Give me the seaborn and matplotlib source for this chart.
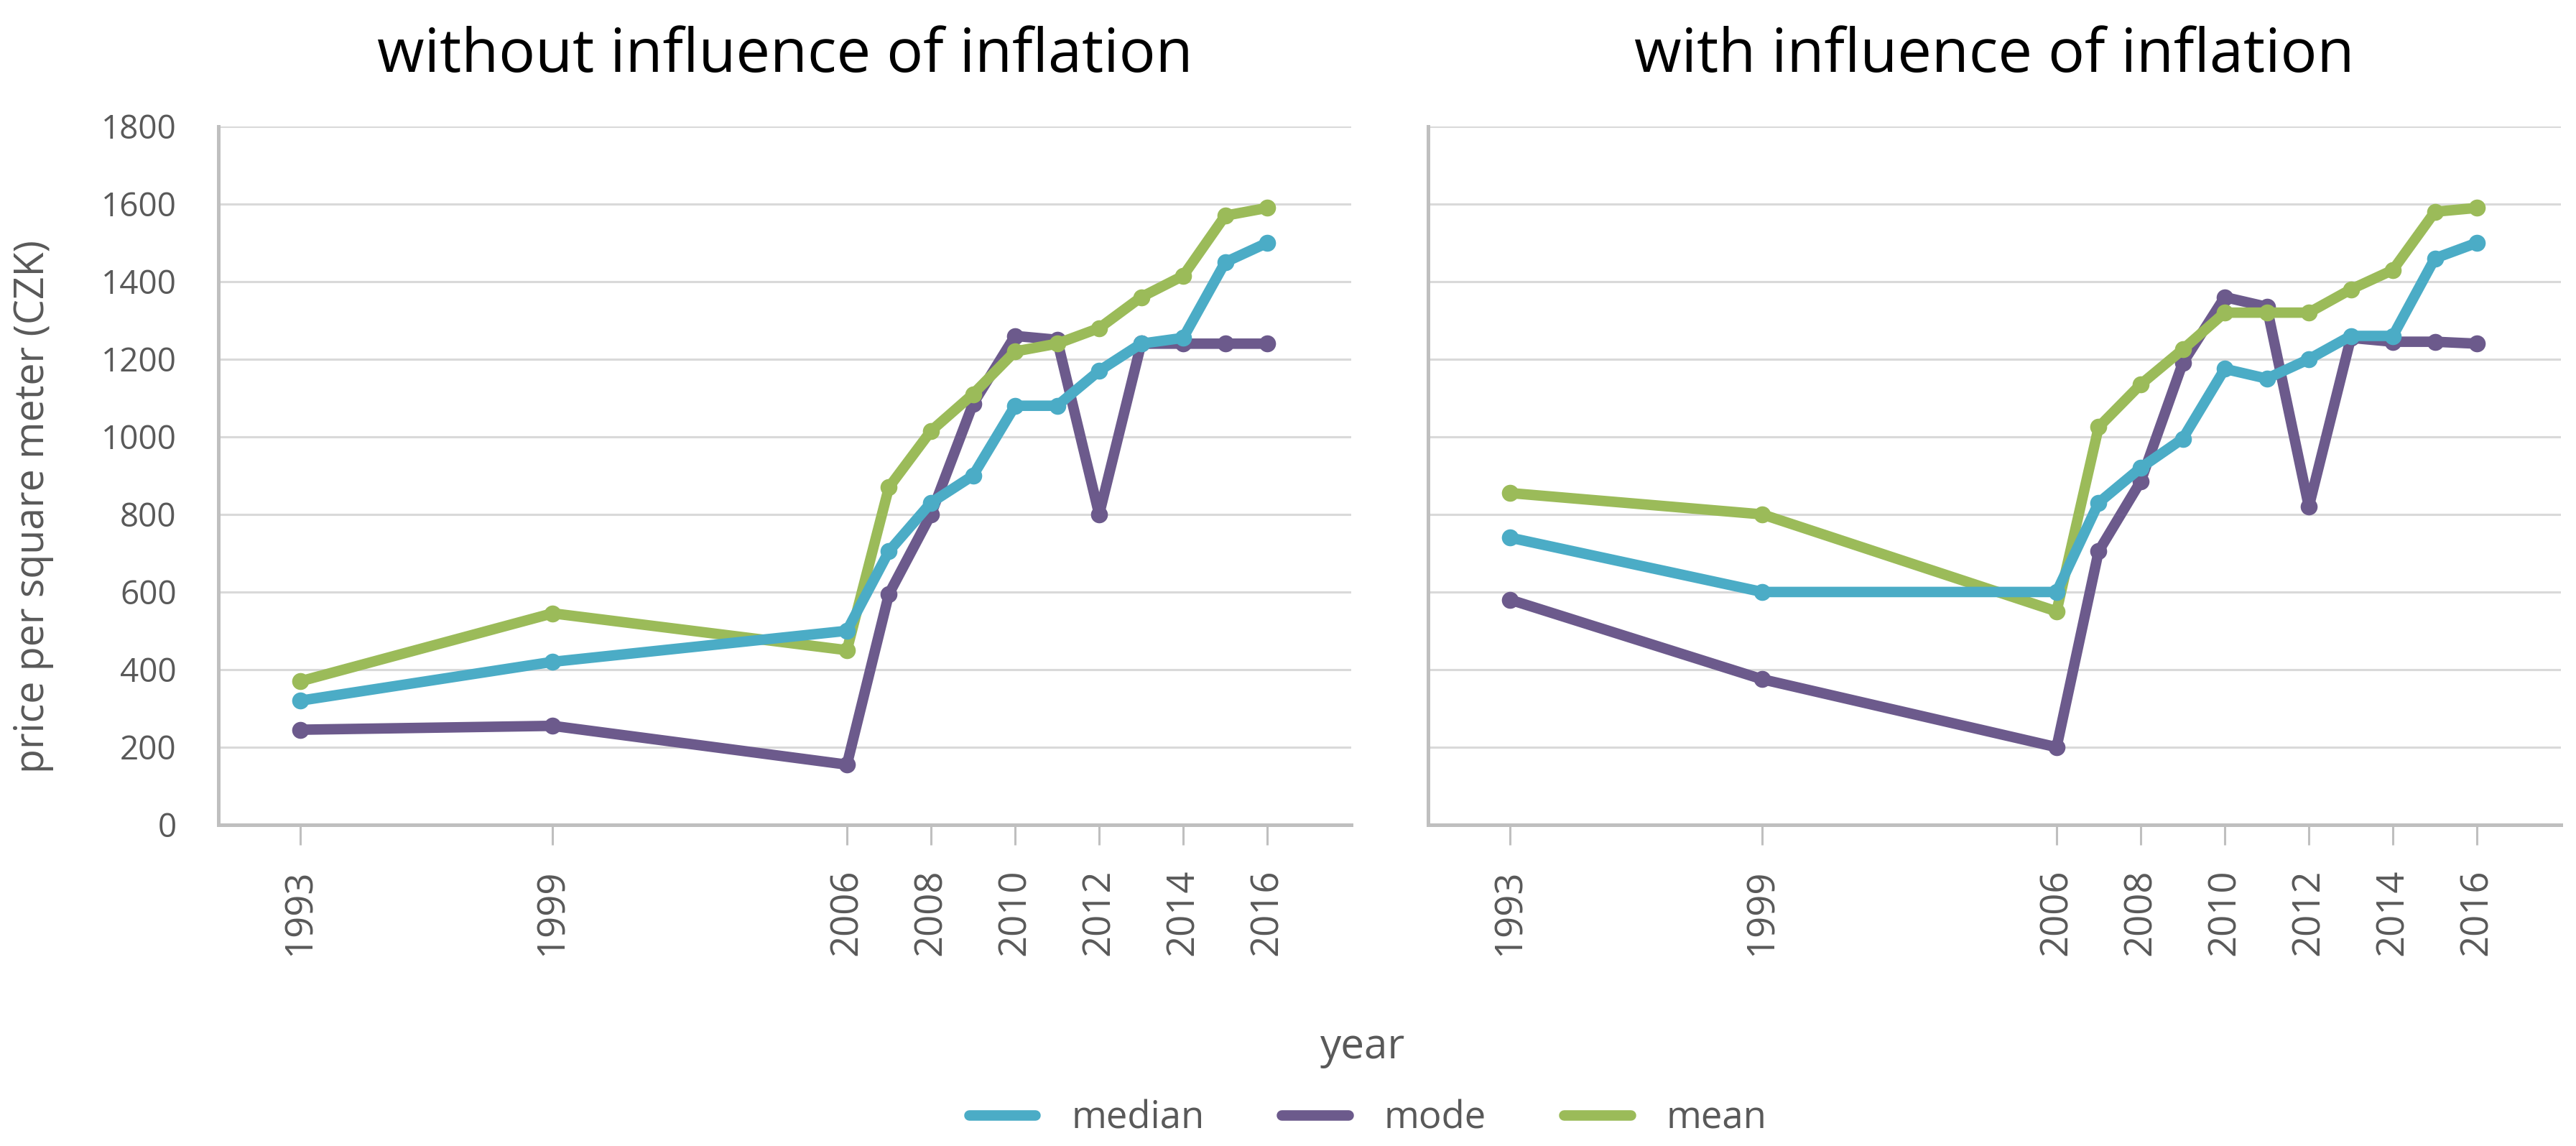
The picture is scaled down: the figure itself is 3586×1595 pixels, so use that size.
import pandas as pd
import matplotlib
matplotlib.use("Agg")
import matplotlib.pyplot as plt
from matplotlib.lines import Line2D
import seaborn as sns

sns.set_style("white")
plt.rcParams["font.family"] = ["Open Sans", "DejaVu Sans"]

years = [1993, 1999, 2006, 2007, 2008, 2009, 2010, 2011, 2012, 2013, 2014, 2015, 2016]
year_ticks = [1993, 1999, 2006, 2008, 2010, 2012, 2014, 2016]
stats = ["median", "mode", "mean"]
colors = {"median": "#4BACC6", "mode": "#6C5A8C", "mean": "#9BBB59"}

# without influence of inflation
median_nominal = [320, 420, 500, 705, 830, 900, 1080, 1080, 1170, 1240, 1255, 1450, 1500]
mode_nominal = [245, 255, 155, 595, 800, 1085, 1260, 1250, 800, 1240, 1240, 1240, 1240]
mean_nominal = [370, 545, 450, 870, 1015, 1110, 1220, 1240, 1280, 1360, 1415, 1570, 1590]

# with influence of inflation
median_real = [740, 600, 600, 830, 920, 995, 1175, 1150, 1200, 1260, 1260, 1460, 1500]
mode_real = [580, 375, 200, 705, 885, 1190, 1360, 1335, 820, 1255, 1245, 1245, 1240]
mean_real = [855, 800, 550, 1025, 1135, 1225, 1320, 1320, 1320, 1380, 1430, 1580, 1590]

panels = [
    ("without influence of inflation", {"median": median_nominal, "mode": mode_nominal, "mean": mean_nominal}),
    ("with influence of inflation", {"median": median_real, "mode": mode_real, "mean": mean_real}),
]

GRID = "#d9d9d9"
SPINE = "#bfbfbf"
TEXT = "#595959"

fig = plt.figure(figsize=(35.86, 15.95), dpi=100)
ax_left = fig.add_axes([0.0848, 0.2803, 0.4398, 0.6094])
ax_right = fig.add_axes([0.5544, 0.2803, 0.4398, 0.6094])

# drawing order in the original: mode at the back, then mean, median on top
zorders = {"mode": 3, "mean": 4, "median": 5}

for ax, (title, series) in zip([ax_left, ax_right], panels):
    df = pd.DataFrame(
        [(y, v, s) for s in stats for y, v in zip(years, series[s])],
        columns=["year", "price", "stat"],
    )
    for s in stats:
        sns.lineplot(
            data=df[df["stat"] == s], x="year", y="price",
            color=colors[s], marker="o", markersize=17, markeredgewidth=0,
            linewidth=10.5, legend=False, ax=ax, zorder=zorders[s],
            solid_joinstyle="round", solid_capstyle="round",
        )

    ax.set_xlim(1991.05, 2018)
    ax.set_ylim(0, 1800)
    ax.set_xticks(year_ticks)
    ax.set_yticks(range(0, 1801, 200))
    ax.set_xlabel("")
    ax.set_ylabel("")
    ax.yaxis.grid(True, color=GRID, linewidth=2.2)
    ax.xaxis.grid(False)
    ax.set_axisbelow(True)
    for side in ["top", "right"]:
        ax.spines[side].set_visible(False)
    for side in ["left", "bottom"]:
        ax.spines[side].set_color(SPINE)
        ax.spines[side].set_linewidth(3.6)
    ax.tick_params(axis="x", bottom=True, length=20, width=2.2, color=SPINE,
                   pad=24, labelsize=38, labelcolor=TEXT, labelrotation=90)
    ax.tick_params(axis="y", left=False, length=0, pad=42, labelsize=33, labelcolor=TEXT)
    ax.set_title(title, fontsize=61, color="black", pad=55)

ax_right.tick_params(axis="y", labelleft=False)

fig.text(47 / 3586, 0.558, "price per square meter (CZK)", rotation=90,
         ha="center", va="center", fontsize=40, color=TEXT)
fig.text(0.529, 0.086, "year", ha="center", va="center", fontsize=42, color=TEXT)

handles = [Line2D([0], [0], color=colors[s], linewidth=10.5, solid_capstyle="round") for s in stats]
fig.legend(handles, stats, loc="center", bbox_to_anchor=(0.531, 0.024), ncol=3,
           frameon=False, fontsize=38, handlelength=1.75, handletextpad=0.95,
           columnspacing=2.05, labelcolor=TEXT)

fig.savefig("out.png", dpi=100)
